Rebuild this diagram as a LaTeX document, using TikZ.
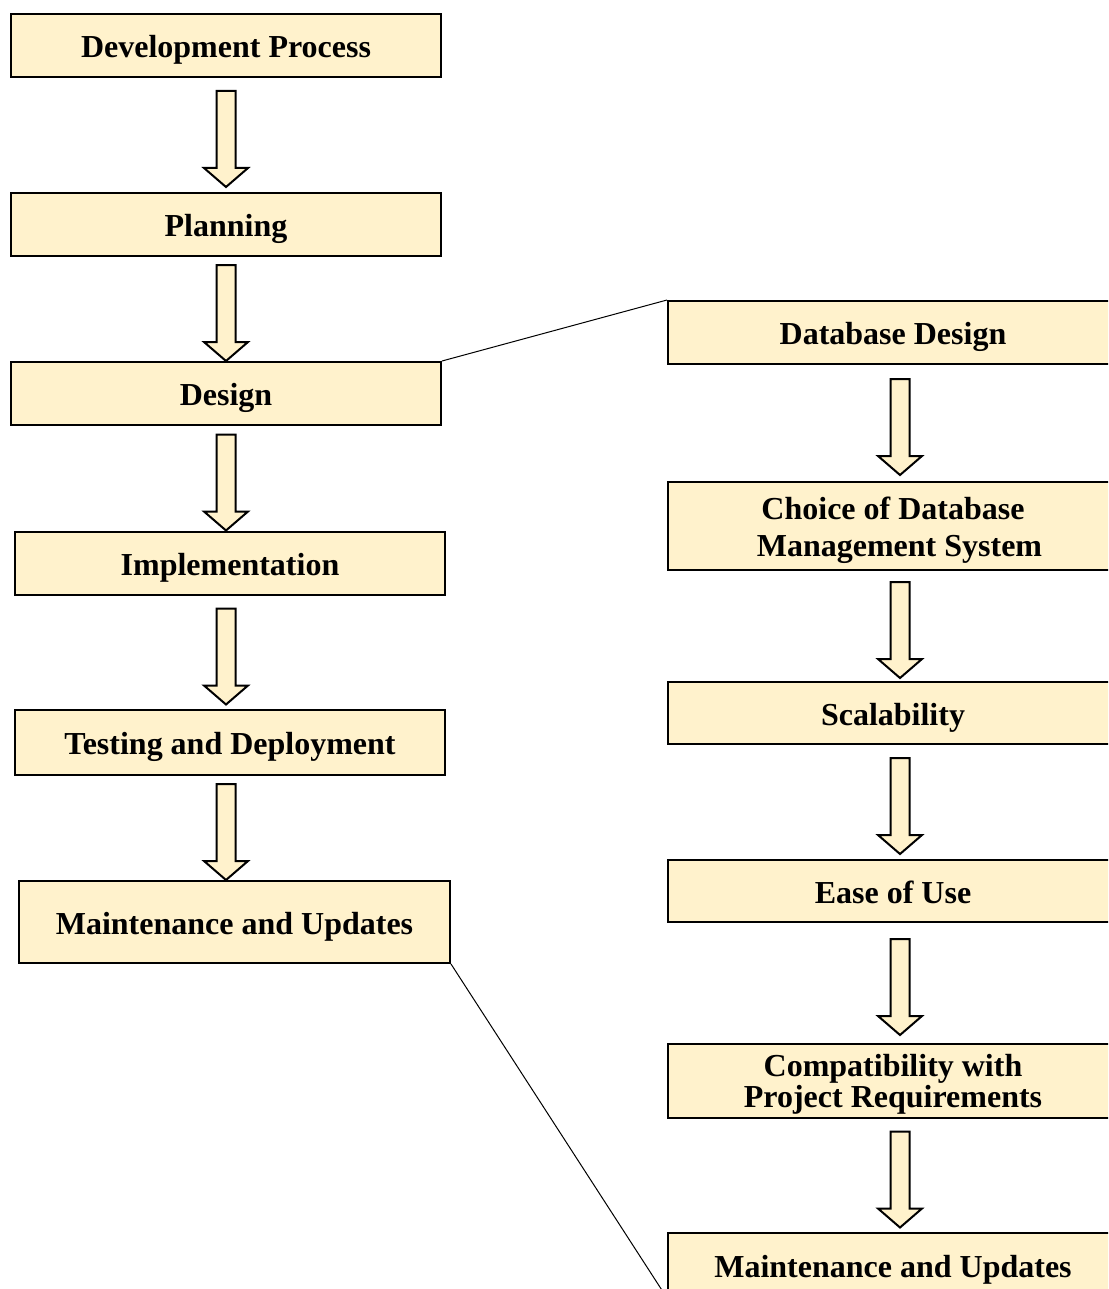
\documentclass[tikz,border=0pt]{standalone}
\usepackage{fontspec}
\setmainfont{Liberation Serif}
\usetikzlibrary{calc}

\definecolor{boxfill}{RGB}{255,242,204}
\tikzset{
	stagebox/.style={draw=black, line width=2pt, fill=boxfill, inner sep=0pt,
		align=center, text height=24pt, text depth=0pt,
		font=\bfseries\fontsize{32}{37}\selectfont},
	fatarrow/.style={draw=black, line width=2pt, fill=boxfill, line join=miter},
	link/.style={draw=black, line width=1pt},
}
% block arrow between two boxes, on a fixed column
\newcommand{\fatarrow}[3]{%
	\draw[fatarrow] let \p1=($(#1.south)!0.5!(#2.north)$), \p3=(#3) in
		(\x3-9.5pt,\y1+44pt) -- (\x3+9.5pt,\y1+44pt) -- (\x3+9.5pt,\y1-33pt)
		-- (\x3+22pt,\y1-33pt) -- (\x3,\y1-52pt) -- (\x3-22pt,\y1-33pt)
		-- (\x3-9.5pt,\y1-33pt) -- cycle;}

\begin{document}
\begin{tikzpicture}[x=1pt, y=-1pt]
		\useasboundingbox (0,0) rectangle (1108,1289);
		\clip (0,0) rectangle (1108,1289);
		\coordinate (lcol) at (226,0);
		\coordinate (rcol) at (900,0);

		% main process
		\node[stagebox, minimum width=430, minimum height=63] (dev) at (226,45.5) {Development Process};
		\node[stagebox, minimum width=430, minimum height=63] (plan) at (226,224.5) {Planning};
		\node[stagebox, minimum width=430, minimum height=63] (design) at (226,393.5) {Design};
		\node[stagebox, minimum width=430, minimum height=63] (impl) at (230,563.5) {Implementation};
		\node[stagebox, minimum width=430, minimum height=65] (test) at (230,742.5) {Testing and Deployment};
		\node[stagebox, minimum width=431, minimum height=82] (maint) at (234.5,922) {Maintenance and Updates};

		% database design detail
		\node[stagebox, minimum width=450, minimum height=63] (dbdesign) at (893,332.5) {Database Design};
		\node[stagebox, minimum width=450, minimum height=88, text height=61pt] (dbms) at (893,526) {Choice of Database\\ \hspace*{13pt}Management System};
		\node[stagebox, minimum width=450, minimum height=62] (scal) at (893,713) {Scalability};
		\node[stagebox, minimum width=450, minimum height=62] (ease) at (893,891) {Ease of Use};
		\node[stagebox, minimum width=450, minimum height=74, text height=52pt, font=\bfseries\fontsize{32}{28}\selectfont] (compat) at (893,1081) {Compatibility with\\ Project Requirements};
		\node[stagebox, minimum width=450, minimum height=64] (rmaint) at (893,1265) {Maintenance and Updates};

		\foreach \a/\b in {dev/plan, plan/design, design/impl, impl/test, test/maint}
			\fatarrow{\a}{\b}{lcol};
		\foreach \a/\b in {dbdesign/dbms, dbms/scal, scal/ease, ease/compat, compat/rmaint}
			\fatarrow{\a}{\b}{rcol};

		\draw[link] (design.north east) -- (dbdesign.north west);
		\draw[link] (maint.south east) -- (rmaint.south west);
	\end{tikzpicture}
\end{document}
